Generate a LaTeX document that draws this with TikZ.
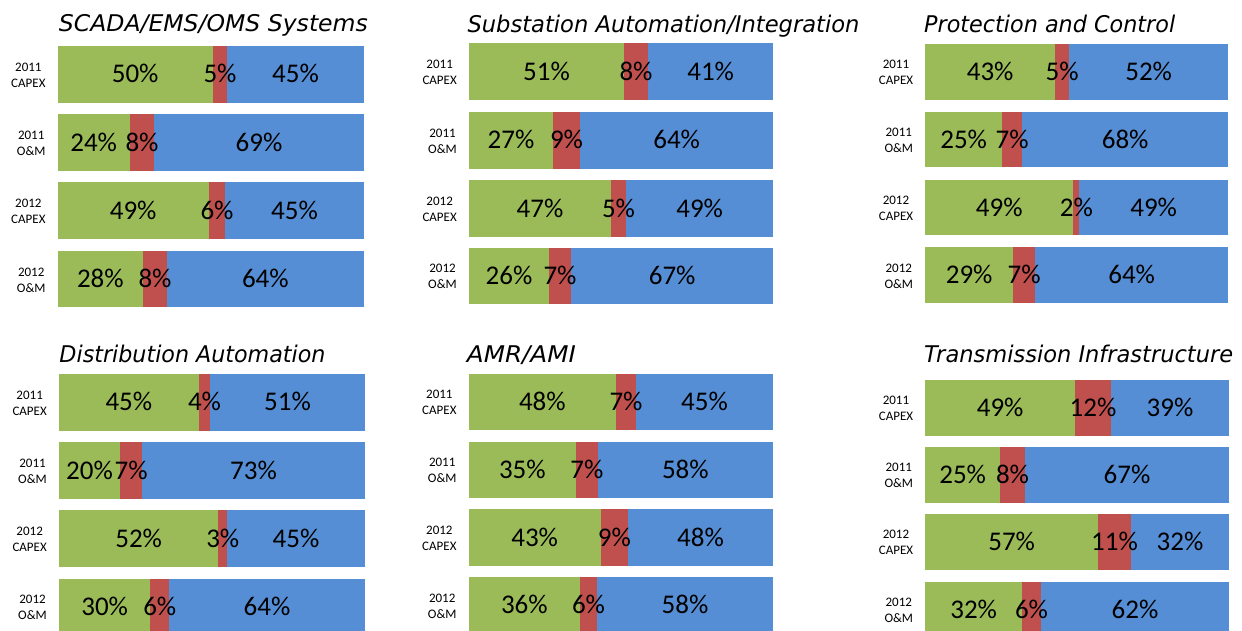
\documentclass[tikz,border=0pt]{standalone}
\usepackage{fontspec}
\setmainfont{Carlito}
\newfontfamily\titlefont{DejaVu Sans}
\definecolor{segA}{HTML}{9BBB59}
\definecolor{segB}{HTML}{C0504D}
\definecolor{segC}{HTML}{558ED5}

\tikzset{
  pct/.style={font=\fontsize{27}{27}\selectfont, inner sep=0pt, anchor=base},
  rowlab/.style={font=\fontsize{13}{16}\selectfont, align=center, anchor=east, inner sep=0pt},
  ttl/.style={font=\titlefont\itshape\fontsize{23}{23}\selectfont, anchor=base west, inner sep=0pt},
}

% stretch a title horizontally to a given width (in pt)
\newcommand\fitw[2]{\setbox0\hbox{#2}\pgfmathsetmacro\fitf{#1/(\the\wd0)}\scalebox{\fitf}[1]{\box0}}

% one panel of stacked 100% bars
% #1 name, #2 left edge, #3 right edge, #4 list of bars
\newcommand\panel[4]{%
  \foreach \yt/\yb/\sa/\sb/\pa/\pb/\pc/\yr/\ty [count=\i] in {#4} {
    \fill[segA] (#2,\yt) rectangle (\sa,\yb);
    \fill[segB] (\sa,\yt) rectangle (\sb,\yb);
    \fill[segC] (\sb,\yt) rectangle (#3,\yb);
    \node[pct] (#1-\i-a) at ({(#2+\sa)/2}, {(\yt+\yb)/2+8.5}) {\pa\%};
    \node[pct] (#1-\i-b) at ({(\sa+\sb)/2}, {(\yt+\yb)/2+8.5}) {\pb\%};
    \node[pct] (#1-\i-c) at ({(\sb+#3)/2}, {(\yt+\yb)/2+8.5}) {\pc\%};
    \node[rowlab] (#1-\i-l) at (#2-12, {(\yt+\yb)/2+0.7}) {\yr\\\ty};
  }%
}

\begin{document}
\begin{tikzpicture}[x=1pt,y=-1pt]
\useasboundingbox (0,0) rectangle (1242,630);
\clip (0,0) rectangle (1242,630);

% titles
\node[ttl] (t1) at (58.7,31.7)  {\fitw{309}{SCADA/EMS/OMS Systems}};
\node[ttl] (t2) at (467.3,32.3) {\fitw{392}{Substation Automation/Integration}};
\node[ttl] (t3) at (924,32.3)   {\fitw{251}{Protection and Control}};
\node[ttl] (t4) at (59.3,362.3) {\fitw{266}{Distribution Automation}};
\node[ttl] (t5) at (466.7,362.3){\fitw{109}{AMR/AMI}};
\node[ttl] (t6) at (924,362.3)  {\fitw{309}{Transmission Infrastructure}};

\panel{scada}{57.7}{363.7}{
  46/102.7/212.7/227.3/50/5/45/2011/CAPEX,
  114/171.3/129.7/154.3/24/8/69/2011/O\&M,
  182.3/239.3/208.7/225.3/49/6/45/2012/CAPEX,
  251.3/307.3/143/167/28/8/64/2012/O\&M}

\panel{subst}{469}{773.3}{
  43.3/100.3/624/648/51/8/41/2011/CAPEX,
  111.7/168.7/553/580/27/9/64/2011/O\&M,
  180/237/611/626/47/5/49/2012/CAPEX,
  248.3/303.7/549/571/26/7/67/2012/O\&M}

\panel{prot}{925.3}{1228}{
  44/99.7/1055/1069.3/43/5/52/2011/CAPEX,
  112/167.3/1002/1022.3/25/7/68/2011/O\&M,
  180/235/1073.3/1079.3/49/2/49/2012/CAPEX,
  247.3/303.3/1013/1035.3/29/7/64/2012/O\&M}

\panel{dist}{59}{364.7}{
  374/430.7/198.7/210.3/45/4/51/2011/CAPEX,
  442.3/499/120/142.3/20/7/73/2011/O\&M,
  510.3/567.3/218.3/227.3/52/3/45/2012/CAPEX,
  578.7/635.4/150.3/169.3/30/6/64/2012/O\&M}

\panel{amr}{468.7}{773}{
  374/429.7/616/636/48/7/45/2011/CAPEX,
  442/497.7/576/597.7/35/7/58/2011/O\&M,
  509.3/565.7/600.7/628/43/9/48/2012/CAPEX,
  577/633.5/580/597/36/6/58/2012/O\&M}

\panel{trans}{925.3}{1229}{
  380/436/1075/1111/49/12/39/2011/CAPEX,
  447/503/1000/1025/25/8/67/2011/O\&M,
  514/570/1098/1131/57/11/32/2012/CAPEX,
  581.7/637.7/1022/1041/32/6/62/2012/O\&M}
\end{tikzpicture}
\end{document}
